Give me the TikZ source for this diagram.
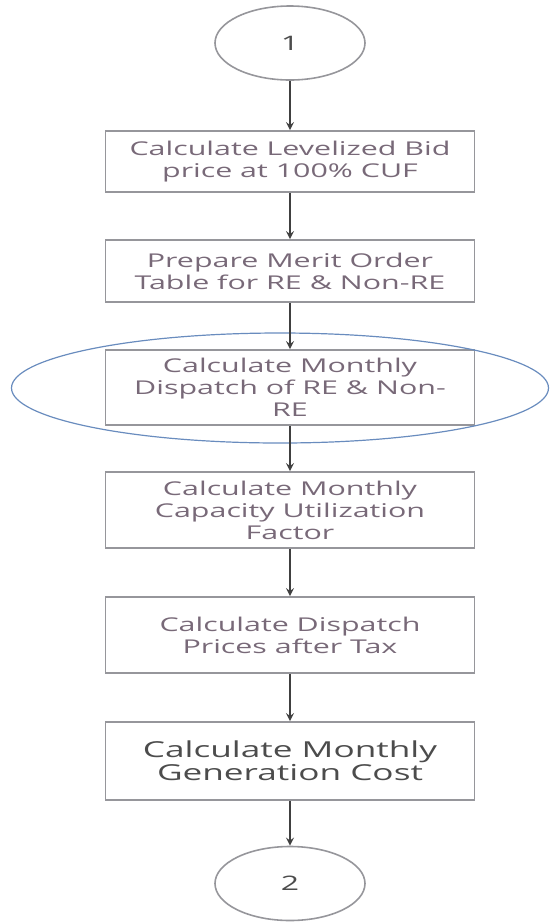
\documentclass[tikz,border=0pt]{standalone}
\usepackage{fontspec}
\setmainfont[FakeStretch=1.6]{Open Sans}
\usetikzlibrary{arrows,shapes.geometric}
\definecolor{boxline}{RGB}{150,150,155}
\definecolor{boxtext}{RGB}{120,105,120}
\definecolor{markline}{RGB}{105,140,190}

\begin{document}
\begin{tikzpicture}[
  x=0.5pt, y=-0.5pt,
  every node/.style={font=\fontsize{9.5}{11}\selectfont, text=boxtext, align=center, inner sep=1pt},
  stepbox/.style={rectangle, draw=boxline, line width=0.8pt, minimum width=184.5pt},
  terminal/.style={ellipse, draw=boxline, line width=0.8pt, minimum width=75pt, minimum height=37pt, font=\fontsize{10}{12}\selectfont, text=black!70},
  flow/.style={draw=black!75, line width=0.8pt, ->, >=stealth}
]
\useasboundingbox (0,0) rectangle (551,923);

% Start connector
\node[terminal] (start) at (290,43) {1};

% Steps
\node[stepbox, minimum height=30.5pt] (bid) at (290,161.5) {Calculate Levelized Bid\\price at 100\% CUF};
\node[stepbox, minimum height=31pt] (merit) at (290,271) {Prepare Merit Order\\Table for RE \& Non-RE};
\node[stepbox, minimum height=37.5pt] (dispatch) at (290,387.5) {Calculate Monthly\\Dispatch of RE \& Non-\\RE};
\node[stepbox, minimum height=38pt] (cuf) at (290,510) {Calculate Monthly\\Capacity Utilization\\Factor};
\node[stepbox, minimum height=38pt] (price) at (290,635) {Calculate Dispatch\\Prices after Tax};
\node[stepbox, minimum height=39pt, font=\fontsize{11}{11.5}\selectfont, text=black!70] (cost) at (290,761) {Calculate Monthly\\Generation Cost};

% End connector
\node[terminal] (stop) at (290,883.5) {2};

% Highlight round the dispatch step
\node[ellipse, draw=markline, line width=0.6pt, minimum width=268.5pt, minimum height=55pt] (mark) at (280,388) {};

\foreach \a/\b in {start/bid, bid/merit, merit/dispatch, dispatch/cuf, cuf/price, price/cost, cost/stop}
  \draw[flow] (\a) -- (\b);

\end{tikzpicture}
\end{document}
